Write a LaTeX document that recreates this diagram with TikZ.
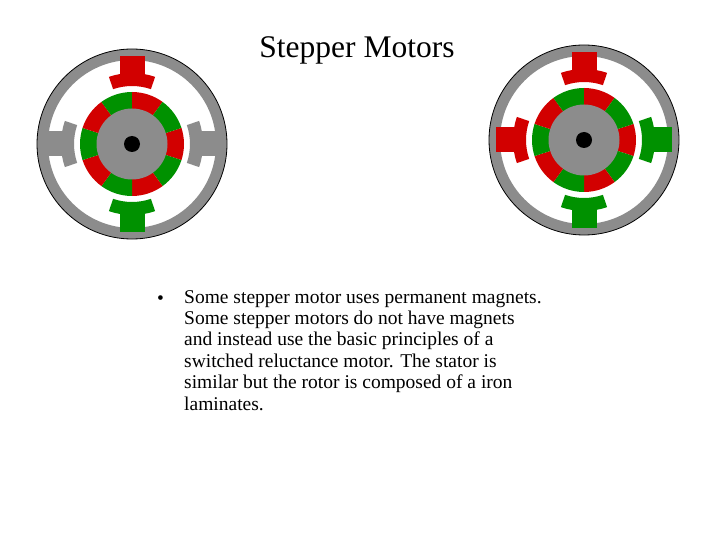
\documentclass[tikz,border=0pt]{standalone}
\usepackage{fontspec}
\setmainfont{Liberation Serif}
\definecolor{mgray}{HTML}{8C8C8C}
\definecolor{mred}{HTML}{D20000}
\definecolor{mgreen}{HTML}{009100}
\newcommand{\motorpole}[2]{%
  \begin{scope}[rotate=#1]
    \fill[#2] (-19:58) arc[start angle=-19,end angle=19,radius=58] -- (19:71) arc[start angle=19,end angle=-19,radius=71] -- cycle;
    \fill[#2] (70,-12.5) rectangle (88,12.5);
  \end{scope}}
\newcommand{\motorbody}[5]{%
  \begin{scope}[shift={#1}]
    \fill[mgray,even odd rule] (0,0) circle[radius=95] (0,0) circle[radius=84];
    \draw[black,line width=0.8pt] (0,0) circle[radius=95];
    \foreach \k in {0,...,9}{
      \pgfmathsetmacro{\a}{\k*36-18}
      \pgfmathsetmacro{\b}{\k*36+18}
      \pgfmathtruncatemacro{\p}{mod(\k,2)}
      \ifnum\p=0 \def\cc{mred}\else\def\cc{mgreen}\fi
      \fill[\cc] (\a:35) arc[start angle=\a,end angle=\b,radius=35] -- (\b:52) arc[start angle=\b,end angle=\a,radius=52] -- cycle;
    }
    \fill[mgray] (0,0) circle[radius=35.5];
    \fill[black] (0,0) circle[radius=8];
    \motorpole{90}{#2}
    \motorpole{-90}{#3}
    \motorpole{180}{#4}
    \motorpole{0}{#5}
  \end{scope}}
\begin{document}
\begin{tikzpicture}[x=1pt,y=-1pt,txt/.style={inner sep=0pt,anchor=base west,font=\fontsize{19.5}{21.4}\selectfont}]
\useasboundingbox (0,0) rectangle (720,540);
\fill[white] (0,0) rectangle (720,540);
\motorbody{(132,144)}{mred}{mgreen}{mgray}{mgray}
\motorbody{(584,140)}{mred}{mgreen}{mred}{mgreen}
\node[inner sep=0pt,font=\fontsize{31.5}{36}\selectfont] (title) at (357,50) {Stepper Motors};
\node[txt] (bullet) at (157,304) {•};
\node[txt,align=left,anchor=north west] (body) at (184,290) {Some stepper motor uses permanent magnets.\\ Some stepper motors do not have magnets\\ and instead use the basic principles of a\\ switched reluctance motor. The stator is\\ similar but the rotor is composed of a iron\\ laminates.};
\end{tikzpicture}
\end{document}
